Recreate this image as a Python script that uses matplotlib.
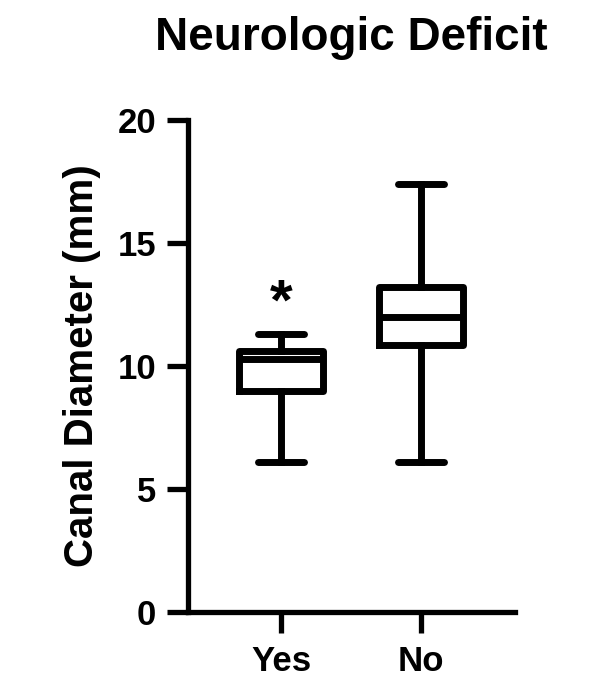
import numpy as np
import matplotlib.pyplot as plt

plt.rcParams['font.family'] = ['Liberation Sans', 'DejaVu Sans']
plt.rcParams['font.weight'] = 'bold'

# box stats (mm)
groups = ['Yes', 'No']
whislo = [6.1, 6.1]
q1     = [9.0, 10.85]
med    = [10.3, 12.0]
q3     = [10.6, 13.2]
whishi = [11.3, 17.4]
star_y = 12.5   # significance marker over "Yes"

stats = [dict(label=g, whislo=lo, q1=a, med=m, q3=b, whishi=hi, fliers=[])
         for g, lo, a, m, b, hi in zip(groups, whislo, q1, med, q3, whishi)]

fig = plt.figure(figsize=(5.95, 6.79), dpi=100)
ax = fig.add_axes([0.316, 0.0987, 0.5495, 0.7246])

lw = 5
pos = np.arange(len(groups))
ax.bxp(stats, positions=pos, widths=0.6, capwidths=0.33, showfliers=False,
       boxprops=dict(color='black', linewidth=lw),
       whiskerprops=dict(color='black', linewidth=lw),
       capprops=dict(color='black', linewidth=lw, solid_capstyle='round'),
       medianprops=dict(color='black', linewidth=lw))

ax.text(pos[0], star_y, '*', ha='center', va='center', fontsize=42, fontweight='bold')

ax.set_xlim(-0.664, 1.671)
ax.set_ylim(0, 20)
ax.set_yticks([0, 5, 10, 15, 20])
ax.set_xticks(pos)
ax.set_xticklabels(groups)

for s in ['top', 'right']:
    ax.spines[s].set_visible(False)
for s in ['left', 'bottom']:
    ax.spines[s].set_linewidth(3.8)
ax.tick_params(width=3.8, length=15, labelsize=25)
ax.tick_params(axis='y', pad=8)
ax.tick_params(axis='x', pad=9)

ax.set_ylabel('Canal Diameter (mm)', fontsize=29, fontweight='bold', labelpad=12)
fig.text(0.591, 0.944, 'Neurologic Deficit', ha='center', va='center',
         fontsize=33, fontweight='bold')

plt.savefig('out.png', dpi=100)
